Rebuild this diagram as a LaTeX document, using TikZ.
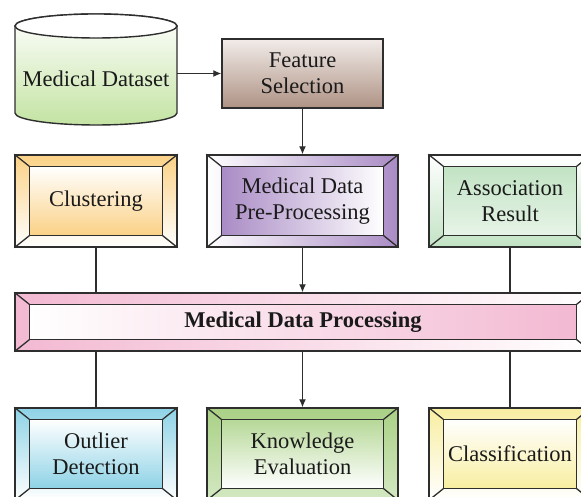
\documentclass[tikz,border=0pt]{standalone}
\usepackage{fontspec}
\setmainfont{Liberation Serif}
\usetikzlibrary{arrows.meta,backgrounds}
\definecolor{edge}{HTML}{2E2E2E}
\definecolor{txt}{HTML}{1A1A1A}
\definecolor{cylgreen}{HTML}{C3E3A2}
\definecolor{fstop}{HTML}{F2ECE9}
\definecolor{fsbot}{HTML}{AE9284}
\definecolor{corange}{HTML}{FBD185}
\definecolor{cpurple}{HTML}{A98BC5}
\definecolor{cassoc}{HTML}{C2E3C4}
\definecolor{cpink}{HTML}{F3B9D2}
\definecolor{cblue}{HTML}{8DD2E6}
\definecolor{ckgreen}{HTML}{A9D185}
\definecolor{cyellow}{HTML}{F8EEA0}
\tikzset{
  x=1pt, y=1pt,
  lbl/.style={font=\fontsize{22.5}{26}\selectfont, text=txt, align=center, inner sep=0pt},
  boxnode/.style={lbl, draw=edge, line width=1.4pt, minimum height=92pt},
  bevline/.style={draw=edge, line width=1.3pt},
  link/.style={draw=edge, line width=1.2pt},
  arr/.style={link, -{Latex[length=8pt,width=7pt]}},
}
\newcommand\bevelbox[7]{% name, position, width, height, frame shading, inner shading, text
  \node[boxnode, minimum width=#3, minimum height=#4] (#1) at (#2) {#7};
  \begin{pgfonlayer}{background}
    \path[#5] (#1.north west) rectangle (#1.south east);
    \path[#6] ([xshift=15pt,yshift=-12pt]#1.north west) rectangle ([xshift=-15pt,yshift=12pt]#1.south east);
    \draw[bevline] ([xshift=15pt,yshift=-12pt]#1.north west) rectangle ([xshift=-15pt,yshift=12pt]#1.south east);
    \draw[bevline] (#1.north west) -- ([xshift=15pt,yshift=-12pt]#1.north west)
                   (#1.north east) -- ([xshift=-15pt,yshift=-12pt]#1.north east)
                   (#1.south west) -- ([xshift=15pt,yshift=12pt]#1.south west)
                   (#1.south east) -- ([xshift=-15pt,yshift=12pt]#1.south east);
  \end{pgfonlayer}
}
\begin{document}
\begin{tikzpicture}
\clip (0,0) rectangle (581,497);
\begin{pgfonlayer}{background}
\fill[white] (0,0) rectangle (581,497);
\end{pgfonlayer}
% cylinder
\path[top color=white, bottom color=cylgreen, draw=edge, line width=1.4pt]
  (15,471) -- (15,384) arc[start angle=180, end angle=360, x radius=81, y radius=12]
  -- (177,471) arc[start angle=0, end angle=180, x radius=81, y radius=12] -- cycle;
\draw[fill=white, draw=edge, line width=1.4pt] (96,471) ellipse[x radius=81, y radius=12];
\node[lbl, minimum width=162pt] (ds) at (96,418) {Medical Dataset};
% feature selection
\node[lbl, draw=edge, line width=1.4pt, minimum width=161pt, minimum height=69pt,
      top color=fstop, bottom color=fsbot] (fs) at (302.5,423.5) {Feature\\Selection};
% row 2
\bevelbox{cl}{96,296}{162pt}{92pt}{top color=corange, bottom color=white}{top color=white, bottom color=corange}{Clustering}
\bevelbox{pp}{302.5,296}{191pt}{92pt}{left color=white, right color=cpurple}{left color=cpurple, right color=white}{Medical Data\\Pre-Processing}
\bevelbox{ar}{510,296}{162pt}{92pt}{top color=white, bottom color=cassoc}{top color=cassoc, bottom color=cassoc!40}{Association\\Result}
% processing bar
\bevelbox{mdp}{303,175}{576pt}{58pt}{left color=cpink, right color=white}{left color=white, right color=cpink}{\bfseries Medical Data Processing}
% row 4
\bevelbox{ol}{96,43}{162pt}{92pt}{top color=cblue, bottom color=white}{top color=white, bottom color=cblue}{Outlier\\Detection}
\bevelbox{ke}{302.5,43}{191pt}{92pt}{top color=ckgreen, bottom color=ckgreen!50}{top color=ckgreen!85, bottom color=white}{Knowledge\\Evaluation}
\bevelbox{cf}{510,43}{162pt}{92pt}{top color=cyellow, bottom color=white}{top color=white, bottom color=cyellow}{Classification}
% connectors
\draw[arr] (ds.east |- fs.west) -- (fs.west);
\draw[arr] (fs.south) -- (pp.north);
\draw[link] (cl.south) -- (cl.south |- mdp.north);
\draw[arr] (pp.south) -- (pp.south |- mdp.north);
\draw[link] (ar.south) -- (ar.south |- mdp.north);
\draw[link] (ol.north |- mdp.south) -- (ol.north);
\draw[arr] (ke.north |- mdp.south) -- (ke.north);
\draw[link] (cf.north |- mdp.south) -- (cf.north);
\end{tikzpicture}
\end{document}
